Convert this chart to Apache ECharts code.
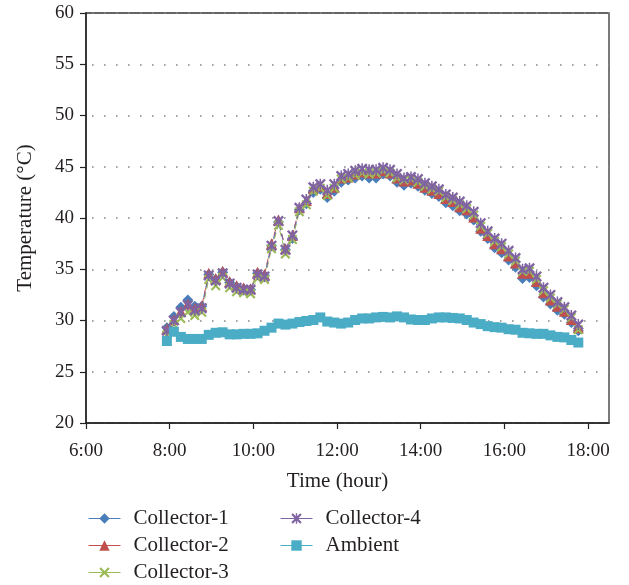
<!DOCTYPE html>
<html>
<head>
<meta charset="utf-8">
<script src="https://cdn.jsdelivr.net/npm/echarts@6/dist/echarts.min.js"></script>
<style>html,body{margin:0;padding:0;background:#fff}#c{width:629px;height:585px}</style>
</head>
<body>
<div id="c"></div>
<script>
const times = ['7:56','8:06','8:16','8:26','8:36','8:46','8:56','9:06','9:16','9:26','9:36','9:46','9:56','10:06','10:16','10:26','10:36','10:46','10:56','11:06','11:16','11:26','11:36','11:46','11:56','12:06','12:16','12:26','12:36','12:46','12:56','13:06','13:16','13:26','13:36','13:46','13:56','14:06','14:16','14:26','14:36','14:46','14:56','15:06','15:16','15:26','15:36','15:46','15:56','16:06','16:16','16:26','16:36','16:46','16:56','17:06','17:16','17:26','17:36','17:46'];
const collector1 = [29.3,30.4,31.3,32.0,31.4,31.4,34.5,34.0,34.7,33.7,33.3,33.1,33.0,34.6,34.4,37.3,39.6,36.9,38.0,40.8,41.4,42.5,42.8,42.0,42.6,43.5,43.7,43.9,44.1,43.9,43.9,44.3,44.1,43.5,43.2,43.4,43.1,42.7,42.4,42.1,41.5,41.2,40.7,40.4,39.8,38.7,38.0,37.1,36.6,35.9,35.2,34.1,34.2,33.4,32.3,31.6,31.0,30.6,29.8,29.0];
const collector2 = [29.2,30.1,30.9,31.6,31.2,31.4,34.6,34.1,34.8,33.8,33.4,33.2,33.1,34.7,34.5,37.5,39.8,37.0,38.3,41.0,41.7,42.9,43.1,42.4,43.0,43.9,44.0,44.3,44.5,44.4,44.4,44.6,44.4,43.9,43.6,43.7,43.4,43.0,42.7,42.4,41.9,41.6,41.1,40.8,40.1,39.0,38.3,37.5,37.0,36.3,35.6,34.6,34.6,33.8,32.7,32.0,31.4,30.9,30.1,29.3];
const collector3 = [28.6,29.6,30.2,30.8,30.5,30.8,34.0,33.4,34.2,33.2,32.8,32.7,32.6,34.1,34.0,37.0,39.3,36.5,37.9,40.6,41.3,42.6,42.9,42.2,42.9,43.8,43.9,44.2,44.4,44.3,44.4,44.6,44.4,43.9,43.7,43.8,43.5,43.1,42.8,42.6,42.0,41.7,41.3,40.9,40.3,39.2,38.5,37.7,37.2,36.5,35.8,34.8,34.8,34.0,32.9,32.2,31.6,31.1,30.3,29.1];
const collector4 = [29.0,30.0,30.8,31.5,31.0,31.2,34.4,33.9,34.6,33.6,33.2,33.0,33.0,34.5,34.3,37.3,39.7,36.9,38.3,41.0,41.8,43.0,43.3,42.7,43.3,44.1,44.3,44.6,44.8,44.7,44.7,44.9,44.7,44.3,43.9,44.0,43.8,43.4,43.1,42.8,42.3,42.0,41.6,41.2,40.6,39.5,38.7,38.0,37.5,36.8,36.1,35.0,35.1,34.3,33.2,32.5,31.8,31.3,30.5,29.6];
const ambient = [28.0,28.9,28.4,28.2,28.2,28.2,28.6,28.8,28.85,28.65,28.65,28.7,28.7,28.75,29.0,29.3,29.7,29.6,29.7,29.85,29.95,30.05,30.3,29.9,29.8,29.7,29.8,30.05,30.2,30.2,30.3,30.35,30.3,30.4,30.3,30.1,30.05,30.05,30.2,30.3,30.3,30.25,30.2,30.05,29.8,29.65,29.45,29.35,29.3,29.15,29.1,28.8,28.75,28.7,28.7,28.55,28.4,28.35,28.1,27.85];
const xTickLabels = ['6:00','8:00','10:00','12:00','14:00','16:00','18:00'];
const yTicks = [20,25,30,35,40,45,50,55,60];

function toHours(s){ const p = s.split(':').map(Number); return p[0] + p[1]/60; }
const xTickValues = xTickLabels.map(toHours);

const FONT = 'Liberation Serif';
const TXT = '#231f20';
const xPath = 'path://M0,1.5 L1.5,0 L5,3.5 L8.5,0 L10,1.5 L6.5,5 L10,8.5 L8.5,10 L5,6.5 L1.5,10 L0,8.5 L3.5,5 Z';
const starPath = 'path://M0,1.5 L1.5,0 L5,3.5 L8.5,0 L10,1.5 L6.5,5 L10,8.5 L8.5,10 L5,6.5 L1.5,10 L0,8.5 L3.5,5 Z M4.3,0 L5.7,0 L5.7,10 L4.3,10 Z';

function mk(name, arr, color, symbol, size) {
  return {
    name: name, type: 'line',
    data: times.map((t, i) => [toHours(t), arr[i]]),
    symbol: symbol, symbolSize: size, showSymbol: true,
    itemStyle: { color: color },
    lineStyle: { color: color, width: 1, type: [6, 4] },
    emphasis: { disabled: true },
    animation: false
  };
}

const legendCommon = {
  orient: 'vertical', top: 508, itemWidth: 32, itemHeight: 13, itemGap: 6, padding: 0,
  lineStyle: { type: 'solid', width: 1 },
  textStyle: { fontFamily: FONT, fontSize: 21, color: TXT, lineHeight: 21, padding: [0, 0, 0, 8] }
};

const chart = echarts.init(document.getElementById('c'), null, { renderer: 'canvas' });
chart.setOption({
  backgroundColor: '#fff',
  animation: false,
  grid: { left: 86, right: 20, top: 13, bottom: 162, show: true, borderColor: '#333', borderWidth: 1.3, backgroundColor: 'transparent' },
  xAxis: {
    type: 'value', min: 6, max: 18.5,
    name: 'Time (hour)', nameLocation: 'middle', nameGap: 48,
    nameTextStyle: { fontFamily: FONT, fontSize: 21, color: TXT, padding: [0, 20, 0, 0] },
    axisLine: { show: true, lineStyle: { color: '#222', width: 1.5 } },
    axisTick: { show: true, length: 6, lineStyle: { color: '#222', width: 1.2 }, customValues: xTickValues },
    axisLabel: { fontFamily: FONT, fontSize: 19, color: TXT, margin: 19, customValues: xTickValues,
      formatter: function (v) { const i = xTickValues.indexOf(v); return i >= 0 ? xTickLabels[i] : ''; } },
    splitLine: { show: false }
  },
  yAxis: {
    type: 'value', min: 20, max: 60, interval: 5,
    name: 'Temperature (°C)', nameLocation: 'middle', nameGap: 50,
    nameTextStyle: { fontFamily: FONT, fontSize: 21, color: TXT },
    axisLine: { show: true, lineStyle: { color: '#222', width: 1.5 } },
    axisTick: { show: true, length: 6, lineStyle: { color: '#222', width: 1.2 } },
    axisLabel: { fontFamily: FONT, fontSize: 19, color: TXT, margin: 12,
      formatter: function (v) { return yTicks.indexOf(v) >= 0 ? String(v) : ''; } },
    splitLine: { show: true, lineStyle: { color: '#888', width: 1.6, type: [1.6, 10.4], dashOffset: -6 } }
  },
  legend: [
    Object.assign({ data: ['Collector-1', 'Collector-2', 'Collector-3'], left: 88 }, legendCommon),
    Object.assign({ data: ['Collector-4', 'Ambient'], left: 280 }, legendCommon)
  ],
  series: [
    mk('Collector-1', collector1, '#4a7ebb', 'diamond', 11),
    mk('Collector-2', collector2, '#c0504d', 'triangle', 11),
    mk('Collector-3', collector3, '#9bbb59', xPath, 10),
    mk('Collector-4', collector4, '#8064a2', starPath, 11),
    mk('Ambient', ambient, '#4bacc6', 'rect', 10)
  ]
});
</script>
</body>
</html>
